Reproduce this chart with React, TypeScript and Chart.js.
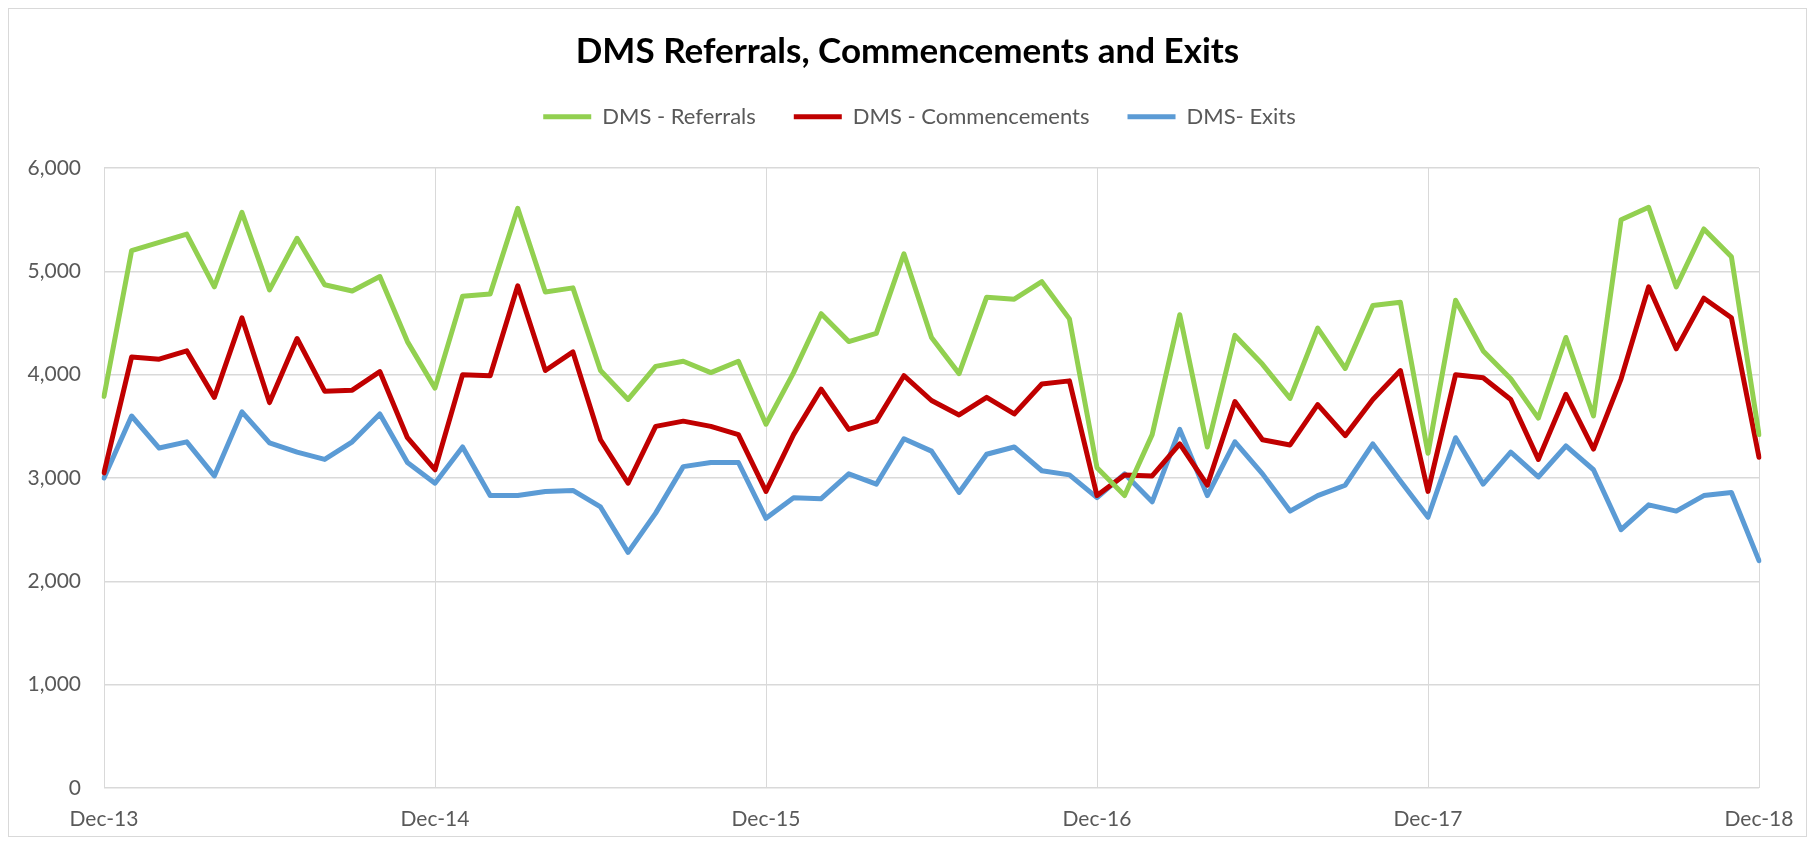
import React, { useEffect, useRef } from 'react';
import { Chart, registerables } from 'chart.js';

Chart.register(...registerables);

const months = [
  'Dec-13',
  'Jan-14', 'Feb-14', 'Mar-14', 'Apr-14', 'May-14', 'Jun-14', 'Jul-14', 'Aug-14', 'Sep-14', 'Oct-14', 'Nov-14', 'Dec-14',
  'Jan-15', 'Feb-15', 'Mar-15', 'Apr-15', 'May-15', 'Jun-15', 'Jul-15', 'Aug-15', 'Sep-15', 'Oct-15', 'Nov-15', 'Dec-15',
  'Jan-16', 'Feb-16', 'Mar-16', 'Apr-16', 'May-16', 'Jun-16', 'Jul-16', 'Aug-16', 'Sep-16', 'Oct-16', 'Nov-16', 'Dec-16',
  'Jan-17', 'Feb-17', 'Mar-17', 'Apr-17', 'May-17', 'Jun-17', 'Jul-17', 'Aug-17', 'Sep-17', 'Oct-17', 'Nov-17', 'Dec-17',
  'Jan-18', 'Feb-18', 'Mar-18', 'Apr-18', 'May-18', 'Jun-18', 'Jul-18', 'Aug-18', 'Sep-18', 'Oct-18', 'Nov-18', 'Dec-18',
];

const shownTickLabels = ['Dec-13', 'Dec-14', 'Dec-15', 'Dec-16', 'Dec-17', 'Dec-18'];

const referrals = [
  3790,
  5200, 5280, 5360, 4850, 5570, 4820, 5320, 4870, 4810, 4950, 4320, 3870,
  4760, 4780, 5610, 4800, 4840, 4040, 3760, 4080, 4130, 4020, 4130, 3520,
  4020, 4590, 4320, 4400, 5170, 4360, 4010, 4750, 4730, 4900, 4540, 3100,
  2830, 3420, 4580, 3300, 4380, 4100, 3770, 4450, 4060, 4670, 4700, 3240,
  4720, 4230, 3960, 3580, 4360, 3600, 5500, 5620, 4850, 5410, 5140, 3420,
];

const commencements = [
  3050,
  4170, 4150, 4230, 3780, 4550, 3730, 4350, 3840, 3850, 4030, 3390, 3080,
  4000, 3990, 4860, 4040, 4220, 3370, 2950, 3500, 3550, 3500, 3420, 2870,
  3420, 3860, 3470, 3550, 3990, 3750, 3610, 3780, 3620, 3910, 3940, 2830,
  3030, 3020, 3330, 2930, 3740, 3370, 3320, 3710, 3410, 3760, 4040, 2870,
  4000, 3970, 3760, 3180, 3810, 3280, 3960, 4850, 4250, 4740, 4550, 3200,
];

const exits = [
  3000,
  3600, 3290, 3350, 3020, 3640, 3340, 3250, 3180, 3350, 3620, 3150, 2950,
  3300, 2830, 2830, 2870, 2880, 2720, 2280, 2660, 3110, 3150, 3150, 2610,
  2810, 2800, 3040, 2940, 3380, 3260, 2860, 3230, 3300, 3070, 3030, 2810,
  3040, 2770, 3470, 2830, 3350, 3040, 2680, 2830, 2930, 3330, 2970, 2620,
  3390, 2940, 3250, 3010, 3310, 3080, 2500, 2740, 2680, 2830, 2860, 2200,
];

const FONT = "Lato, 'Noto Sans', sans-serif";
const GRID = '#d9d9d9';
const TEXT = '#595959';

// centres the title on the canvas and nudges the legend slightly right, as in the reference
const headerNudge = {
  id: 'headerNudge',
  afterLayout(chart: any) {
    const t = chart.titleBlock;
    if (t) {
      t.left += 23.5;
      t.right += 23.5;
    }
    const l = chart.legend;
    if (l) {
      l.left += 35.5;
      l.right += 35.5;
    }
  },
};

export default function App() {
  const ref = useRef<HTMLCanvasElement>(null);

  useEffect(() => {
    if (!ref.current) return;
    Chart.defaults.font.family = FONT;
    const mk = (label: string, data: number[], color: string) => ({
      label,
      data,
      borderColor: color,
      backgroundColor: color,
      borderWidth: 5,
      pointRadius: 0,
      pointHoverRadius: 0,
      tension: 0,
      fill: false,
      borderJoinStyle: 'round' as const,
      borderCapStyle: 'round' as const,
    });
    const chart = new Chart(ref.current, {
      type: 'line',
      data: {
        labels: months,
        datasets: [
          mk('DMS - Referrals', referrals, '#92d050'),
          mk('DMS - Commencements', commencements, '#c00000'),
          mk('DMS- Exits', exits, '#5b9bd5'),
        ],
      },
      plugins: [headerNudge],
      options: {
        animation: false,
        responsive: false,
        devicePixelRatio: 1,
        layout: { padding: { left: 0, right: 47, top: 0, bottom: 0 } },
        plugins: {
          title: {
            display: true,
            text: 'DMS Referrals, Commencements and Exits',
            color: '#000000',
            font: { family: FONT, size: 35, weight: 'bold', lineHeight: 0.9 },
            padding: { top: 27.25, bottom: 0 },
          },
          subtitle: {
            display: true,
            text: ' ',
            weight: 500,
            font: { size: 10, lineHeight: 1.2 },
            padding: { top: 0, bottom: 18.25 },
          } as any,
          legend: {
            display: true,
            position: 'top',
            labels: {
              color: TEXT,
              font: { family: FONT, size: 22 },
              padding: 38,
              usePointStyle: true,
              pointStyle: 'line',
              pointStyleWidth: 48,
            },
          },
          tooltip: { enabled: false },
        },
        scales: {
          x: {
            type: 'category',
            offset: false,
            border: { display: false },
            grid: {
              drawTicks: false,
              lineWidth: 1,
              color: (ctx: any) => (ctx.index % 12 === 0 ? GRID : 'rgba(0,0,0,0)'),
            },
            ticks: {
              autoSkip: false,
              maxRotation: 0,
              minRotation: 0,
              padding: 19,
              color: TEXT,
              font: { family: FONT, size: 21 },
              callback: (_v: any, i: number) => (i % 12 === 0 ? shownTickLabels[i / 12] : ''),
            },
            afterFit: (s: any) => {
              s.height = 48;
              s.paddingLeft = 0;
              s.paddingRight = 0;
            },
          },
          y: {
            min: 0,
            max: 6000,
            border: { display: false },
            grid: { drawTicks: false, color: GRID, lineWidth: 1.5 },
            ticks: {
              stepSize: 1000,
              padding: 23,
              color: TEXT,
              font: { family: FONT, size: 21 },
              callback: (v: any) => Number(v).toLocaleString('en-US'),
            },
            afterFit: (s: any) => {
              s.width = 95;
            },
          },
        },
      },
    });
    return () => chart.destroy();
  }, []);

  return (
    <div
      style={{
        width: 1799,
        height: 829,
        border: `1px solid ${GRID}`,
        boxSizing: 'border-box',
        background: '#ffffff',
      }}
    >
      <canvas ref={ref} width={1797} height={827} style={{ display: 'block' }} />
    </div>
  );
}
